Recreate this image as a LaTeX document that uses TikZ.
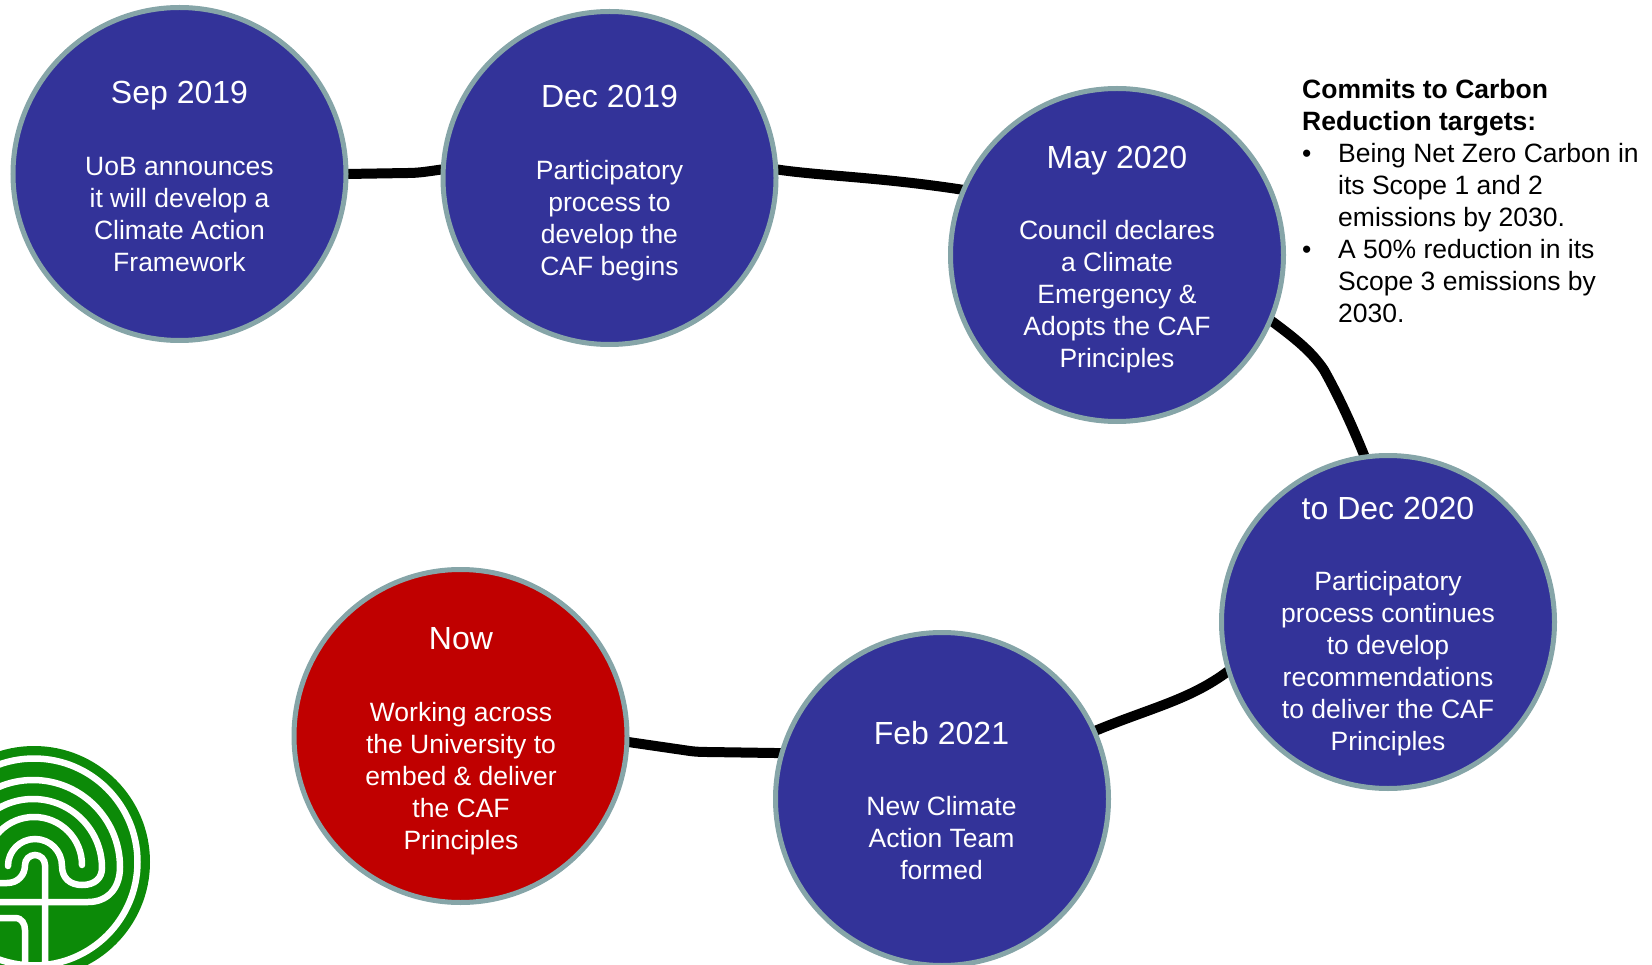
\documentclass[tikz,border=0pt]{standalone}
\usepackage{fontspec}
\setmainfont{Liberation Sans}
\usetikzlibrary{backgrounds}
\definecolor{cafblue}{HTML}{333399}
\definecolor{cafred}{HTML}{C00000}
\definecolor{cafedge}{HTML}{86A5A8}
\definecolor{cafgreen}{HTML}{0C8A08}
\tikzset{
  milestone/.style={circle,draw=cafedge,line width=5pt,minimum size=333pt,inner sep=0pt,outer sep=0pt,fill=cafblue},
  nowstone/.style={milestone,fill=cafred},
  datelabel/.style={text=white,font=\fontsize{32}{36}\selectfont,anchor=base,inner sep=0pt},
  bodylabel/.style={text=white,font=\fontsize{26.5}{32}\selectfont,align=center,anchor=base,inner sep=0pt},
  notelabel/.style={text=black,font=\fontsize{26.5}{32}\selectfont,align=left,anchor=base west,inner sep=0pt},
  linker/.style={line width=10pt,black},
  mazeline/.style={white,line width=6.5pt}
}
\begin{document}
\begin{tikzpicture}[x=1pt,y=-1pt]
\useasboundingbox (0,0) rectangle (1652,965);
% logo
\begin{scope}
\clip (0,700) rectangle (200,965);
\fill[cafgreen] (34,862) circle[radius=116pt];
\draw[mazeline] (34,862) circle[radius=103.5pt];
\draw[mazeline] (-54,867) arc[start angle=180,end angle=0,radius=87pt]
  .. controls (120,888) and (108,902) .. (88,902) -- (-10,902);
\draw[mazeline,line cap=round] (8,866) arc[start angle=180,end angle=0,radius=27pt]
  .. controls (62,878) and (70,885) .. (82,885) .. controls (95,885) and (102,878) .. (102,868)
  arc[start angle=0,end angle=180,radius=69pt];
\draw[mazeline,line cap=round] (82,865) arc[start angle=0,end angle=180,radius=48pt];
\draw[mazeline] (-10,883) -- (7,883) .. controls (18,883) and (25,875) .. (25,865)
  arc[start angle=180,end angle=0,radius=10pt] -- (45,965);
\draw[mazeline] (-10,918) -- (15,918) .. controls (22,918) and (25,924) .. (25,930) -- (25,965);
\end{scope}
% circles
\node[milestone] (c1) at (179.5,174) {};
\node[milestone] (c2) at (609.5,178) {};
\node[milestone] (c3) at (1117,255) {};
\node[milestone] (c4) at (1388,622) {};
\node[milestone] (c5) at (942,799) {};
\node[nowstone] (c6) at (460.5,736) {};
% connectors
\begin{scope}[on background layer]
\draw[linker] (c1.0) -- (408,173) .. controls (420,173) and (430,171) .. (c2.177);
\draw[linker] (c2.3) .. controls (820,176) and (880,177) .. (c3.157);
\draw[linker] (c3.-23) .. controls (1296,339) and (1312,352) .. (1324,370) .. controls (1338,395) and (1352,425) .. (c4.98);
\draw[linker] (c4.197) .. controls (1190,700) and (1150,708) .. (c5.24.4);
\draw[linker] (c5.164) -- (708,752) .. controls (703,752) and (698,752) .. (690,751) -- (c6.-2.7);
\end{scope}
% text
\node[datelabel] (t1) at (179.5,104) {Sep 2019};
\node[bodylabel] (b1) at (179.5,272) {UoB announces\\it will develop a\\Climate Action\\Framework};
\node[datelabel] (t2) at (609.5,108) {Dec 2019};
\node[bodylabel] (b2) at (609.5,276) {Participatory\\process to\\develop the\\CAF begins};
\node[datelabel] (t3) at (1117,169) {May 2020};
\node[bodylabel] (b3) at (1117,368) {Council declares\\a Climate\\Emergency \&\\Adopts the CAF\\Principles};
\node[datelabel] (t4) at (1388,519) {to Dec 2020};
\node[bodylabel] (b4) at (1388,750) {Participatory\\process continues\\to develop\\recommendations\\to deliver the CAF\\Principles};
\node[datelabel] (t5) at (941.5,744) {Feb 2021};
\node[bodylabel] (b5) at (941.5,879) {New Climate\\Action Team\\formed};
\node[datelabel] (t6) at (461,649) {Now};
\node[bodylabel] (b6) at (461,849) {Working across\\the University to\\embed \& deliver\\the CAF\\Principles};
\node[notelabel] (note) at (1302,322.7) {\textbf{Commits to Carbon}\\\textbf{Reduction targets:}\\\makebox[36pt][l]{•}Being Net Zero Carbon in\\\hspace*{36pt}its Scope 1 and 2\\\hspace*{36pt}emissions by 2030.\\\makebox[36pt][l]{•}A 50\% reduction in its\\\hspace*{36pt}Scope 3 emissions by\\\hspace*{36pt}2030.};
\end{tikzpicture}
\end{document}
